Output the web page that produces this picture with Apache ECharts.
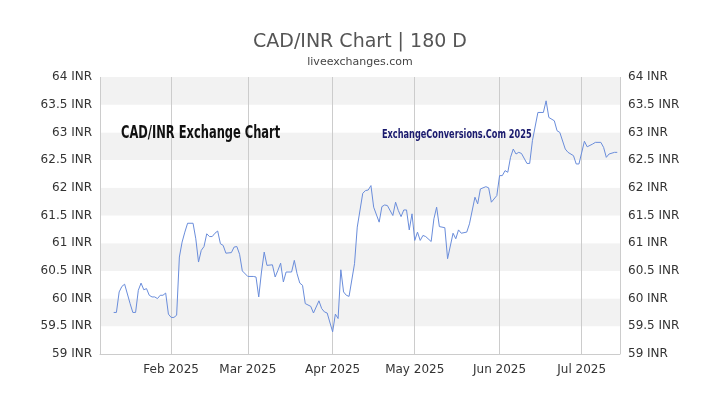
<!DOCTYPE html>
<html><head><meta charset="utf-8">
<script src="https://cdn.jsdelivr.net/npm/echarts@6/dist/echarts.min.js"></script>
<style>html,body{margin:0;padding:0;background:#fff}#c{width:720px;height:405px}</style>
</head><body><div id="c"></div>
<script>
const dates = ["2025-01-11","2025-01-12","2025-01-13","2025-01-14","2025-01-15","2025-01-17","2025-01-18","2025-01-19","2025-01-20","2025-01-21","2025-01-22","2025-01-23","2025-01-24","2025-01-25","2025-01-26","2025-01-27","2025-01-28","2025-01-29","2025-01-30","2025-01-31","2025-02-01","2025-02-02","2025-02-03","2025-02-04","2025-02-05","2025-02-06","2025-02-07","2025-02-09","2025-02-10","2025-02-11","2025-02-12","2025-02-13","2025-02-14","2025-02-15","2025-02-16","2025-02-17","2025-02-18","2025-02-19","2025-02-20","2025-02-21","2025-02-23","2025-02-24","2025-02-25","2025-02-26","2025-02-27","2025-03-01","2025-03-03","2025-03-04","2025-03-05","2025-03-06","2025-03-07","2025-03-08","2025-03-10","2025-03-11","2025-03-12","2025-03-13","2025-03-14","2025-03-15","2025-03-17","2025-03-18","2025-03-19","2025-03-20","2025-03-21","2025-03-22","2025-03-24","2025-03-25","2025-03-27","2025-03-28","2025-03-29","2025-03-30","2025-04-01","2025-04-02","2025-04-03","2025-04-04","2025-04-05","2025-04-06","2025-04-07","2025-04-09","2025-04-10","2025-04-12","2025-04-13","2025-04-14","2025-04-15","2025-04-16","2025-04-18","2025-04-19","2025-04-20","2025-04-21","2025-04-23","2025-04-24","2025-04-25","2025-04-26","2025-04-27","2025-04-28","2025-04-29","2025-04-30","2025-05-01","2025-05-02","2025-05-03","2025-05-04","2025-05-05","2025-05-07","2025-05-08","2025-05-09","2025-05-10","2025-05-12","2025-05-13","2025-05-15","2025-05-16","2025-05-17","2025-05-18","2025-05-20","2025-05-21","2025-05-23","2025-05-24","2025-05-25","2025-05-27","2025-05-28","2025-05-29","2025-05-31","2025-06-01","2025-06-02","2025-06-03","2025-06-04","2025-06-05","2025-06-06","2025-06-07","2025-06-08","2025-06-09","2025-06-11","2025-06-12","2025-06-13","2025-06-15","2025-06-17","2025-06-18","2025-06-19","2025-06-21","2025-06-22","2025-06-23","2025-06-25","2025-06-26","2025-06-28","2025-06-29","2025-06-30","2025-07-02","2025-07-03","2025-07-05","2025-07-06","2025-07-08","2025-07-09","2025-07-10","2025-07-11","2025-07-13","2025-07-14"];
const rates = [59.75,59.75,60.12,60.22,60.26,59.91,59.75,59.75,60.15,60.28,60.16,60.18,60.06,60.03,60.03,60.0,60.06,60.06,60.1,59.72,59.66,59.66,59.7,60.75,61.02,61.2,61.36,61.36,61.08,60.66,60.87,60.94,61.17,61.12,61.12,61.18,61.22,60.99,60.96,60.82,60.83,60.93,60.94,60.8,60.5,60.4,60.4,60.39,60.03,60.48,60.84,60.6,60.61,60.39,60.51,60.64,60.3,60.48,60.48,60.69,60.45,60.28,60.24,59.91,59.86,59.74,59.96,59.82,59.76,59.74,59.4,59.72,59.64,60.52,60.12,60.06,60.04,60.63,61.29,61.9,61.95,61.96,62.04,61.65,61.38,61.66,61.69,61.68,61.5,61.74,61.59,61.48,61.6,61.6,61.24,61.53,61.05,61.2,61.05,61.14,61.12,61.03,61.44,61.65,61.3,61.28,60.72,61.18,61.08,61.24,61.18,61.2,61.35,61.83,61.71,61.98,62.02,62.0,61.74,61.86,62.22,62.22,62.31,62.28,62.55,62.7,62.61,62.64,62.62,62.44,62.44,62.85,63.36,63.36,63.57,63.27,63.21,63.03,63.0,62.7,62.64,62.58,62.43,62.43,62.84,62.74,62.79,62.82,62.82,62.73,62.55,62.61,62.64,62.64];
const months = ["Jan","Feb","Mar","Apr","May","Jun","Jul","Aug","Sep","Oct","Nov","Dec"];
const data = dates.map((d,i)=>[d,rates[i]]);
const chart = echarts.init(document.getElementById('c'));
const lbl = {color:'#333',fontSize:12,fontFamily:'DejaVu Sans',formatter:v=>v+' INR'};
chart.setOption({
  animation:false,
  title:{text:'CAD/INR Chart | 180 D',subtext:'liveexchanges.com',left:'center',top:28,itemGap:5,
    textStyle:{fontFamily:'DejaVu Sans',fontSize:19,fontWeight:'normal',color:'#555'},
    subtextStyle:{fontFamily:'DejaVu Sans',fontSize:11,color:'#444'}},
  grid:{left:100,right:100,top:77,bottom:51},
  xAxis:{type:'time',min:'2025-01-06',max:'2025-07-15',
    axisLine:{lineStyle:{color:'#ccc'}},axisTick:{show:false},
    axisLabel:{color:'#333',fontSize:12,fontFamily:'DejaVu Sans',margin:10,showMinLabel:false,showMaxLabel:false,
      formatter:v=>{const d=new Date(v);return d.getDate()===1?months[d.getMonth()]+' '+d.getFullYear():'';}},
    splitLine:{show:true,lineStyle:{color:'#ccc'}}},
  yAxis:[
    {type:'value',min:59,max:64,interval:0.5,position:'left',axisLabel:lbl,axisLine:{show:false},axisTick:{show:false},
     splitLine:{show:false},splitArea:{show:true,areaStyle:{color:['#ffffff','#f2f2f2']}}},
    {type:'value',min:59,max:64,interval:0.5,position:'right',axisLabel:lbl,axisLine:{show:false},axisTick:{show:false},splitLine:{show:false}}
  ],
  graphic:[
    {type:'text',x:121,y:125,scaleX:0.75,z:100,zlevel:1,style:{text:'CAD/INR Exchange Chart',font:'bold 17px "DejaVu Sans Condensed"',fill:'#111',textVerticalAlign:'top'}},
    {type:'text',x:382,y:128,scaleX:0.7,z:100,zlevel:1,style:{text:'ExchangeConversions.Com 2025',font:'bold 13px "DejaVu Sans Condensed"',fill:'#1a1a6e',textVerticalAlign:'top'}}
  ],
  series:[{type:'line',data:data,showSymbol:false,lineStyle:{color:'#6a8ddb',width:1},itemStyle:{color:'#6a8ddb'}}]
});
</script></body></html>
